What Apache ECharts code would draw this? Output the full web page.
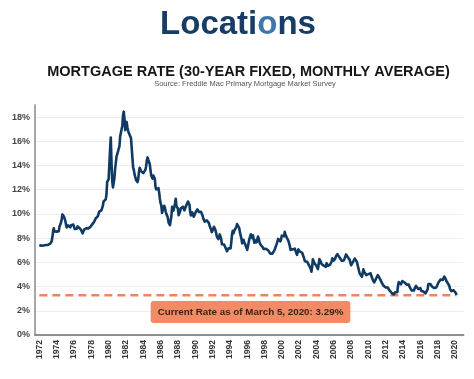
<!DOCTYPE html>
<html><head><meta charset="utf-8">
<script src="https://cdn.jsdelivr.net/npm/echarts@6/dist/echarts.min.js"></script>
<style>html,body{margin:0;padding:0;background:#fff}#c{width:474px;height:379px}</style>
</head><body><div id="c"></div>
<script>
const brand = 'Locations';
const titleText = 'MORTGAGE RATE (30-YEAR FIXED, MONTHLY AVERAGE)';
const sourceText = 'Source: Freddie Mac Primary Mortgage Market Survey';
const currentLabel = 'Current Rate as of March 5, 2020: 3.29%';
const currentRate = 3.29;
const startYear = 1972;
const yearLabels = [1972,1974,1976,1978,1980,1982,1984,1986,1988,1990,1992,1994,1996,1998,2000,2002,2004,2006,2008,2010,2012,2014,2016,2018,2020];
const yTicks = [0,2,4,6,8,10,12,14,16,18];
// monthly averages from Jan 1972
const rates = [
7.44,7.32,7.29,7.37,7.41,7.38,7.40,7.41,7.42,7.43,7.44,7.44,
7.44,7.44,7.46,7.54,7.65,7.73,8.05,8.50,8.82,8.56,8.52,8.57,
8.54,8.46,8.41,8.58,8.97,9.09,9.28,9.59,9.96,9.98,9.79,9.62,
9.43,9.10,8.89,8.82,9.06,9.13,8.94,8.89,9.07,9.18,9.23,9.12,
9.02,8.77,8.76,8.73,8.78,8.97,8.93,8.95,8.82,8.72,8.65,8.56,
8.40,8.49,8.70,8.73,8.81,8.81,8.79,8.81,8.81,8.83,8.94,8.95,
9.02,9.12,9.18,9.23,9.36,9.48,9.63,9.77,9.79,9.80,9.95,10.19,
10.30,10.31,10.30,10.34,10.66,11.03,11.09,11.13,11.20,11.58,12.65,12.79,
12.88,13.04,15.28,16.32,14.26,12.71,12.19,12.21,12.95,13.70,14.24,14.75,
14.91,15.14,15.40,15.58,16.40,16.70,16.83,17.29,18.16,18.45,17.83,16.92,
17.40,17.60,17.16,16.89,16.68,16.70,16.82,16.27,15.43,14.61,13.83,13.62,
13.25,13.04,12.80,12.78,12.63,12.87,13.42,13.81,13.73,13.54,13.44,13.42,
13.37,13.23,13.39,13.65,13.94,14.42,14.67,14.47,14.35,14.13,13.64,13.18,
13.08,12.92,13.17,13.20,12.91,12.22,12.03,12.19,12.19,12.14,11.78,11.26,
10.88,10.71,10.08,9.94,10.14,10.68,10.51,10.20,10.01,9.98,9.70,9.31,
9.20,9.08,9.04,9.83,10.60,10.54,10.28,10.33,10.89,11.26,10.65,10.65,
10.43,9.89,9.93,10.20,10.46,10.46,10.43,10.60,10.48,10.30,10.27,10.61,
10.73,10.65,11.03,11.05,10.77,10.20,9.88,9.99,10.13,9.95,9.77,9.74,
9.90,10.20,10.27,10.37,10.48,10.16,10.04,10.10,10.18,10.18,9.90,9.67,
9.64,9.37,9.50,9.49,9.47,9.62,9.58,9.24,9.01,8.86,8.71,8.50,
8.43,8.76,8.94,8.85,8.67,8.51,8.13,7.98,7.92,8.09,8.31,8.22,
7.92,7.50,7.46,7.46,7.47,7.42,7.21,7.11,6.92,6.83,7.16,7.17,
7.06,7.15,7.68,8.32,8.60,8.40,8.61,8.51,8.64,8.93,9.17,9.20,
9.15,8.83,8.46,8.32,7.96,7.57,7.61,7.86,7.64,7.48,7.38,7.20,
7.03,7.08,7.62,7.93,8.07,8.32,8.25,8.00,8.23,7.92,7.62,7.60,
7.82,7.65,7.90,8.14,7.94,7.69,7.50,7.48,7.43,7.29,7.21,7.10,
6.99,7.04,7.13,7.14,7.14,7.00,6.95,6.92,6.72,6.71,6.87,6.72,
6.79,6.81,7.04,6.92,7.15,7.55,7.63,7.94,7.82,7.85,7.74,7.91,
8.21,8.33,8.24,8.15,8.52,8.29,8.15,8.03,7.91,7.80,7.75,7.38,
7.03,7.05,6.95,7.08,7.15,7.16,7.13,6.95,6.82,6.62,6.66,7.07,
7.00,6.89,7.01,6.99,6.81,6.65,6.49,6.29,6.09,6.11,6.07,6.05,
5.92,5.84,5.75,5.81,5.48,5.23,5.63,6.26,6.15,5.95,5.93,5.88,
5.71,5.64,5.45,5.83,6.27,6.29,6.06,5.87,5.75,5.72,5.73,5.75,
5.71,5.63,5.93,5.86,5.72,5.58,5.70,5.82,5.77,6.07,6.33,6.27,
6.15,6.25,6.32,6.51,6.60,6.68,6.76,6.52,6.40,6.36,6.24,6.14,
6.22,6.29,6.16,6.18,6.26,6.66,6.70,6.57,6.38,6.38,6.21,6.10,
5.76,5.92,5.97,5.92,6.04,6.32,6.43,6.48,6.04,6.20,6.09,5.29,
5.06,5.13,5.00,4.81,4.86,5.42,5.22,5.19,5.06,4.95,4.88,4.93,
5.03,4.99,4.97,5.10,4.89,4.74,4.56,4.43,4.35,4.23,4.30,4.71,
4.76,4.95,4.84,4.84,4.64,4.51,4.55,4.27,4.11,4.07,3.99,3.96,
3.92,3.89,3.95,3.91,3.80,3.68,3.55,3.60,3.50,3.38,3.35,3.35,
3.41,3.53,3.57,3.45,3.54,4.07,4.37,4.46,4.49,4.19,4.26,4.46,
4.43,4.30,4.34,4.34,4.19,4.16,4.13,4.12,4.16,3.98,4.00,3.86,
3.67,3.71,3.77,3.67,3.84,3.98,4.05,3.91,3.89,3.80,3.94,3.96,
3.87,3.66,3.69,3.61,3.60,3.57,3.44,3.44,3.46,3.47,3.77,4.20,
4.15,4.17,4.20,4.05,4.01,3.90,3.97,3.88,3.81,3.90,3.92,3.95,
4.03,4.33,4.44,4.47,4.59,4.57,4.53,4.55,4.63,4.83,4.87,4.64,
4.46,4.37,4.27,4.14,4.07,3.80,3.77,3.62,3.61,3.69,3.70,3.72,
3.62,3.47,3.29
];

const lineData = rates.map((v, i) => [startYear + i / 12, v]);
const lastX = startYear + (rates.length - 1) / 12;
const dashData = [[startYear, currentRate], [lastX, currentRate]];

const chart = echarts.init(document.getElementById('c'), null, {renderer: 'canvas'});
chart.setOption({
  animation: false,
  backgroundColor: '#fff',
  graphic: [
    {type: 'text', x: 238, y: 8,
     style: {text: '{a|Locati}{b|o}{a|ns}', align: 'center', rich: {
       a: {fontFamily: 'Liberation Sans', fontWeight: 'bold', fontSize: 33, fill: '#173d66'},
       b: {fontFamily: 'Liberation Sans', fontWeight: 'bold', fontSize: 33, fill: '#3f77ad'}
     }}},
    {type: 'text', x: 248.5, y: 72, 
     style: {text: titleText, align: 'center', verticalAlign: 'middle',
       fontFamily: 'Liberation Sans', fontWeight: 'bold', fontSize: 14.5, fill: '#161616'}},
    {type: 'text', x: 245, y: 84,
     style: {text: sourceText, align: 'center', verticalAlign: 'middle',
       fontFamily: 'Liberation Sans', fontSize: 7.5, fill: '#555'}},
    {type: 'text', x: 250.5, y: 312, z: 100,
     style: {text: currentLabel, align: 'center', verticalAlign: 'middle',
       fontFamily: 'Liberation Sans', fontWeight: 'bold', fontSize: 9.8, fill: '#3a2418',
       backgroundColor: '#f28a66', padding: [6, 7, 6, 7], borderRadius: 3}}
  ],
  grid: {left: 35, right: 10.3, top: 105, bottom: 44, containLabel: false},
  xAxis: {
    type: 'value', min: 1971.5, max: 2021, interval: 0.5,
    axisLine: {show: true, lineStyle: {color: '#6f6f6f', width: 1.5}},
    axisTick: {show: false},
    splitLine: {show: false},
    axisLabel: {
      rotate: 90, margin: 5, fontSize: 8.5, fontWeight: 'bold', color: '#333',
      fontFamily: 'Liberation Sans',
      formatter: function (v) {
        const r = Math.round(v);
        return (Math.abs(v - r) < 1e-6 && yearLabels.indexOf(r) >= 0) ? String(r) : '';
      }
    }
  },
  yAxis: {
    type: 'value', min: 0, max: 19, interval: 2,
    axisLine: {show: true, lineStyle: {color: '#8a8a8a', width: 1.5}},
    axisTick: {show: false},
    splitLine: {show: true, showMaxLine: false, lineStyle: {color: '#ececec', width: 1}},
    axisLabel: {
      margin: 5, fontSize: 9, fontWeight: 'bold', color: '#444', fontFamily: 'Liberation Sans',
      showMaxLabel: false,
      formatter: function (v) { return yTicks.indexOf(v) >= 0 ? v + '%' : ''; }
    }
  },
  series: [
    {type: 'line', data: dashData, symbol: 'none', silent: true, z: 1,
     lineStyle: {color: '#e9865f', width: 2.5, type: [8, 5]}},
    {type: 'line', data: lineData, symbol: 'none', z: 2,
     lineStyle: {color: '#0f3a63', width: 2.6, join: 'round'}}
  ]
});
</script></body></html>
